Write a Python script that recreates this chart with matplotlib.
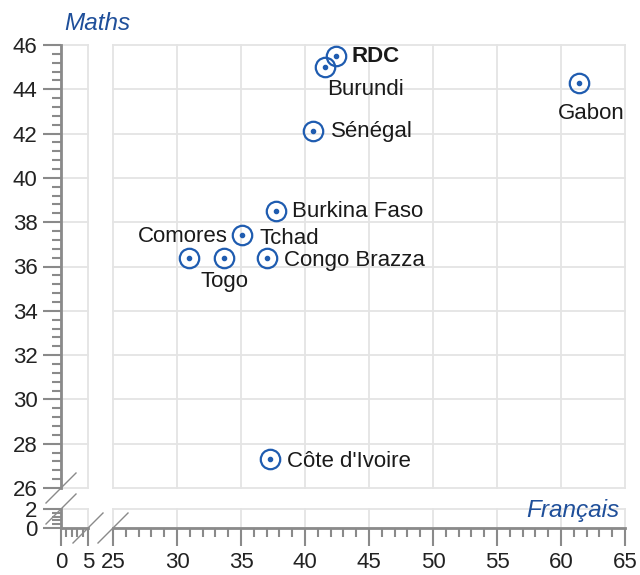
"""
Scores Maths vs Français par pays - nuage de points avec axes coupés
"""

import matplotlib.pyplot as plt
from matplotlib.ticker import MultipleLocator

plt.rcParams['font.family'] = ['Liberation Sans', 'DejaVu Sans']

# Data
countries = ['RDC', 'Burundi', 'Gabon', 'Sénégal', 'Burkina Faso', 'Tchad',
             'Comores', 'Togo', 'Congo Brazza', "Côte d'Ivoire"]
francais = [42.4, 41.6, 61.4, 40.6, 37.7, 35.1, 30.9, 33.7, 37.0, 37.3]
maths = [45.5, 45.0, 44.3, 42.1, 38.5, 37.4, 36.4, 36.4, 36.4, 27.3]

# label placement (offset in pixels, horizontal alignment)
label_pos = {
    'RDC': (16, 0, 'left'),
    'Burundi': (2, -22, 'left'),
    'Gabon': (12, -31, 'center'),
    'Sénégal': (18, 0, 'left'),
    'Burkina Faso': (16, 0, 'left'),
    'Tchad': (17, -3, 'left'),
    'Comores': (-6, 21, 'center'),
    'Togo': (0, -24, 'center'),
    'Congo Brazza': (17, -3, 'left'),
    "Côte d'Ivoire": (17, -2, 'left'),
}

BLUE = '#1f5cb0'
GRID = '#e4e4e4'
AXIS = '#8a8a8a'
W, H = 640, 575


def px_axes(fig, x0, y0, x1, y1):
    """Add axes from pixel box (top-left origin)"""
    return fig.add_axes([x0 / W, (H - y1) / H, (x1 - x0) / W, (y1 - y0) / H])


fig = plt.figure(figsize=(W / 100, H / 100), dpi=100)

ax_main = px_axes(fig, 113, 45, 625, 488)
ax_left = px_axes(fig, 61, 45, 88, 488)
ax_bot = px_axes(fig, 113, 509, 625, 528)
ax_corner = px_axes(fig, 61, 509, 88, 528)

ax_main.set_xlim(25, 65)
ax_main.set_ylim(26, 46)
ax_left.set_xlim(0, 5)
ax_left.set_ylim(26, 46)
ax_bot.set_xlim(25, 65)
ax_bot.set_ylim(0, 2)
ax_corner.set_xlim(0, 5)
ax_corner.set_ylim(0, 2)

for ax in [ax_main, ax_left, ax_bot, ax_corner]:
    for s in ax.spines.values():
        s.set_visible(False)
    ax.set_facecolor('none')
    ax.xaxis.set_major_locator(MultipleLocator(5))
    ax.xaxis.set_minor_locator(MultipleLocator(1))
    ax.yaxis.set_major_locator(MultipleLocator(2))
    ax.yaxis.set_minor_locator(MultipleLocator(0.4))
    ax.grid(True, which='major', color=GRID, linewidth=1.3)
    ax.set_axisbelow(True)
    for line in ax.get_xgridlines() + ax.get_ygridlines():
        line.set_clip_on(False)
    ax.tick_params(which='both', colors=AXIS, labelcolor='#222222',
                   labelsize=16, width=1.5, direction='out')
    ax.tick_params(which='major', length=13, pad=4)
    ax.tick_params(which='minor', length=6.5)
    ax.tick_params(axis='x', bottom=False, labelbottom=False, which='both')
    ax.tick_params(axis='y', left=False, labelleft=False, which='both')

# left axis (y) on left strips, bottom axis (x) on bottom strips
for ax in [ax_left, ax_corner]:
    ax.spines['left'].set_visible(True)
    ax.spines['left'].set_color(AXIS)
    ax.spines['left'].set_linewidth(2)
    ax.tick_params(axis='y', which='both', left=True, labelleft=True)
for ax in [ax_bot, ax_corner]:
    ax.spines['bottom'].set_visible(True)
    ax.spines['bottom'].set_color(AXIS)
    ax.spines['bottom'].set_linewidth(2)
    ax.tick_params(axis='x', which='both', bottom=True, labelbottom=True)

ax_corner.set_yticks([0, 2])
ax_corner.set_xticks([0, 5])
ax_left.set_xticks([0, 5])
ax_bot.set_yticks([0, 2])

# scatter points: ring + center dot
ax_main.plot(francais, maths, 'o', ms=14, mfc='none', mec=BLUE, mew=1.6,
             clip_on=False, zorder=3)
ax_main.plot(francais, maths, 'o', ms=3, color=BLUE, clip_on=False, zorder=4)

for name, x, y in zip(countries, francais, maths):
    dx, dy, ha = label_pos[name]
    ax_main.annotate(name, (x, y), xytext=(dx, dy), textcoords='offset pixels',
                     ha=ha, va='center', fontsize=16, color='#1a1a1a',
                     fontweight='bold' if name == 'RDC' else 'normal',
                     zorder=5)

# break marks
def slash(xc, yc, d=15):
    fig.add_artist(plt.Line2D([(xc - d) / W, (xc + d) / W],
                              [(H - yc - d) / H, (H - yc + d) / H],
                              color=AXIS, linewidth=1))

slash(61, 488)
slash(61, 509)
slash(88, 528)
slash(113, 528)

fig.text(97 / W, 1 - 23 / H, 'Maths', color='#1f4f9a', fontsize=17.5,
         style='italic', ha='center', va='center')
fig.text(619 / W, 1 - 510 / H, 'Français', color='#1f4f9a', fontsize=17.5,
         style='italic', ha='right', va='center')

plt.savefig('out.png', dpi=100)
